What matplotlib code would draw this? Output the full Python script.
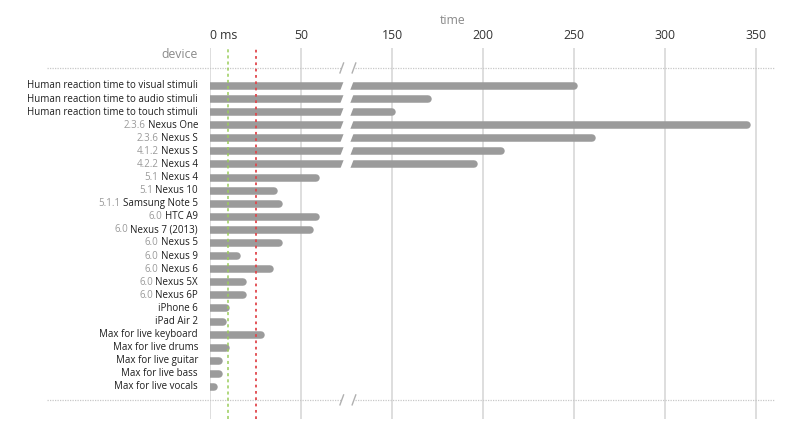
import numpy as np
import matplotlib.pyplot as plt

# rows, top to bottom: (OS version, device name, latency in ms)
versions = ["", "", "", "2.3.6", "2.3.6", "4.1.2", "4.2.2", "5.1", "5.1", "5.1.1",
            "6.0", "6.0", "6.0", "6.0", "6.0", "6.0", "6.0", "", "", "", "", "", "", ""]
devices = ["Human reaction time to visual stimuli",
           "Human reaction time to audio stimuli",
           "Human reaction time to touch stimuli",
           "Nexus One", "Nexus S", "Nexus S", "Nexus 4", "Nexus 4", "Nexus 10",
           "Samsung Note 5", "HTC A9", "Nexus 7 (2013)", "Nexus 5", "Nexus 9",
           "Nexus 6", "Nexus 5X", "Nexus 6P", "iPhone 6", "iPad Air 2",
           "Max for live keyboard", "Max for live drums", "Max for live guitar",
           "Max for live bass", "Max for live vocals"]
latency = [250, 170, 150, 345, 260, 210, 195, 58, 35, 38, 58, 55, 38, 15, 33,
           18, 18, 9, 7, 28, 9, 5, 5, 2]

tick_vals = [0, 50, 150, 200, 250, 300, 350]
tick_text = ["0 ms", "50", "150", "200", "250", "300", "350"]
green_ms = 10
red_ms = 25

# broken axis: 0-74 linear, 74-129 squeezed, 129+ shifted back by 50
B0, B1 = 74.0, 129.0
SQ = 5.0 / (B1 - B0)


def fwd(t):
    t = np.asarray(t, dtype=float)
    return np.where(t <= B0, t,
                    np.where(t < B1, B0 + (t - B0) * SQ, t - 50.0))


def inv(d):
    d = np.asarray(d, dtype=float)
    return np.where(d <= B0, d,
                    np.where(d < B0 + 5.0, B0 + (d - B0) / SQ, d + 50.0))


BAR = "#9b9b9b"
GRID = "#dedede"
DOT = "#c8c8c8"
FONT = "Open Sans"

fig = plt.figure(figsize=(8, 4.36), dpi=100)
ax = fig.add_axes([210 / 800, 17 / 436, 564.2 / 800, 371 / 436])
ax.set_xscale("function", functions=(fwd, inv))
ax.set_xlim(0, 360)
n = len(devices)
ax.set_ylim(25.45, -2.90)

for s in ax.spines.values():
    s.set_visible(False)
ax.set_yticks([])
ax.xaxis.tick_top()
ax.set_xticks(tick_vals)
ax.set_xticklabels(tick_text, fontsize=8.8, color="#333333", family=FONT)
ax.tick_params(axis="x", length=0, pad=4)
ax.get_xticklabels()[0].set_ha("left")
ax.grid(axis="x", color=GRID, linewidth=1.4, zorder=0)
ax.set_axisbelow(True)

rows = np.arange(n)
for r, v in zip(rows, latency):
    ax.plot([0, v], [r, r], color=BAR, linewidth=5.4,
            solid_capstyle="round", zorder=3)

# white slanted gap on the broken bars
for r, v in zip(rows, latency):
    if v > B1:
        d0 = 72.6
        xs = inv([d0 - 1.2, d0 + 4.2, d0 + 6.4, d0 + 1.0])
        ys = [r + 0.4, r + 0.4, r - 0.4, r - 0.4]
        ax.fill(xs, ys, color="white", zorder=4, lw=0)

ax.axvline(green_ms, color="#9acd5a", linestyle=(0, (2, 2)), linewidth=1.1, zorder=5)
ax.axvline(red_ms, color="#e0474c", linestyle=(0, (1.5, 2)), linewidth=1.3, zorder=5)

# dotted separators with break marks
for yy in (-1.375, 23.99):
    ax.plot([-89.6, inv(72.0)], [yy, yy], color=DOT, linestyle=(0, (1, 1)),
            linewidth=0.9, clip_on=False, zorder=2)
    ax.plot([inv(79.6), 360], [yy, yy], color=DOT, linestyle=(0, (1, 1)),
            linewidth=0.9, clip_on=False, zorder=2)
    for dx in (72.4, 79.1):
        ax.plot(inv([dx - 1.0, dx + 1.0]), [yy + 0.38, yy - 0.38], color="#b0b0b0",
                linewidth=1.0, clip_on=False, zorder=2)

# row labels: grey version + dark device name
for r, ver, name in zip(rows, versions, devices):
    t = ax.annotate(name, xy=(0, r), xycoords=("axes fraction", "data"),
                    xytext=(-8.6, 0), textcoords="offset points",
                    ha="right", va="center", fontsize=7.0, color="#1e1e1e",
                    family=FONT)
    if ver:
        ax.annotate(ver, xy=(0, 0.5), xycoords=t, xytext=(-1.8, 0),
                    textcoords="offset points", ha="right", va="center",
                    fontsize=7.0, color="#9a9a9a", family=FONT)

fig.text(453 / 800, 1 - 20 / 436, "time", ha="center", va="center",
         fontsize=8.8, color="#8a8a8a", family=FONT)
fig.text(198 / 800, 1 - 55 / 436, "device", ha="right", va="center",
         fontsize=8.8, color="#8a8a8a", family=FONT)

fig.savefig("out.png", dpi=100)
